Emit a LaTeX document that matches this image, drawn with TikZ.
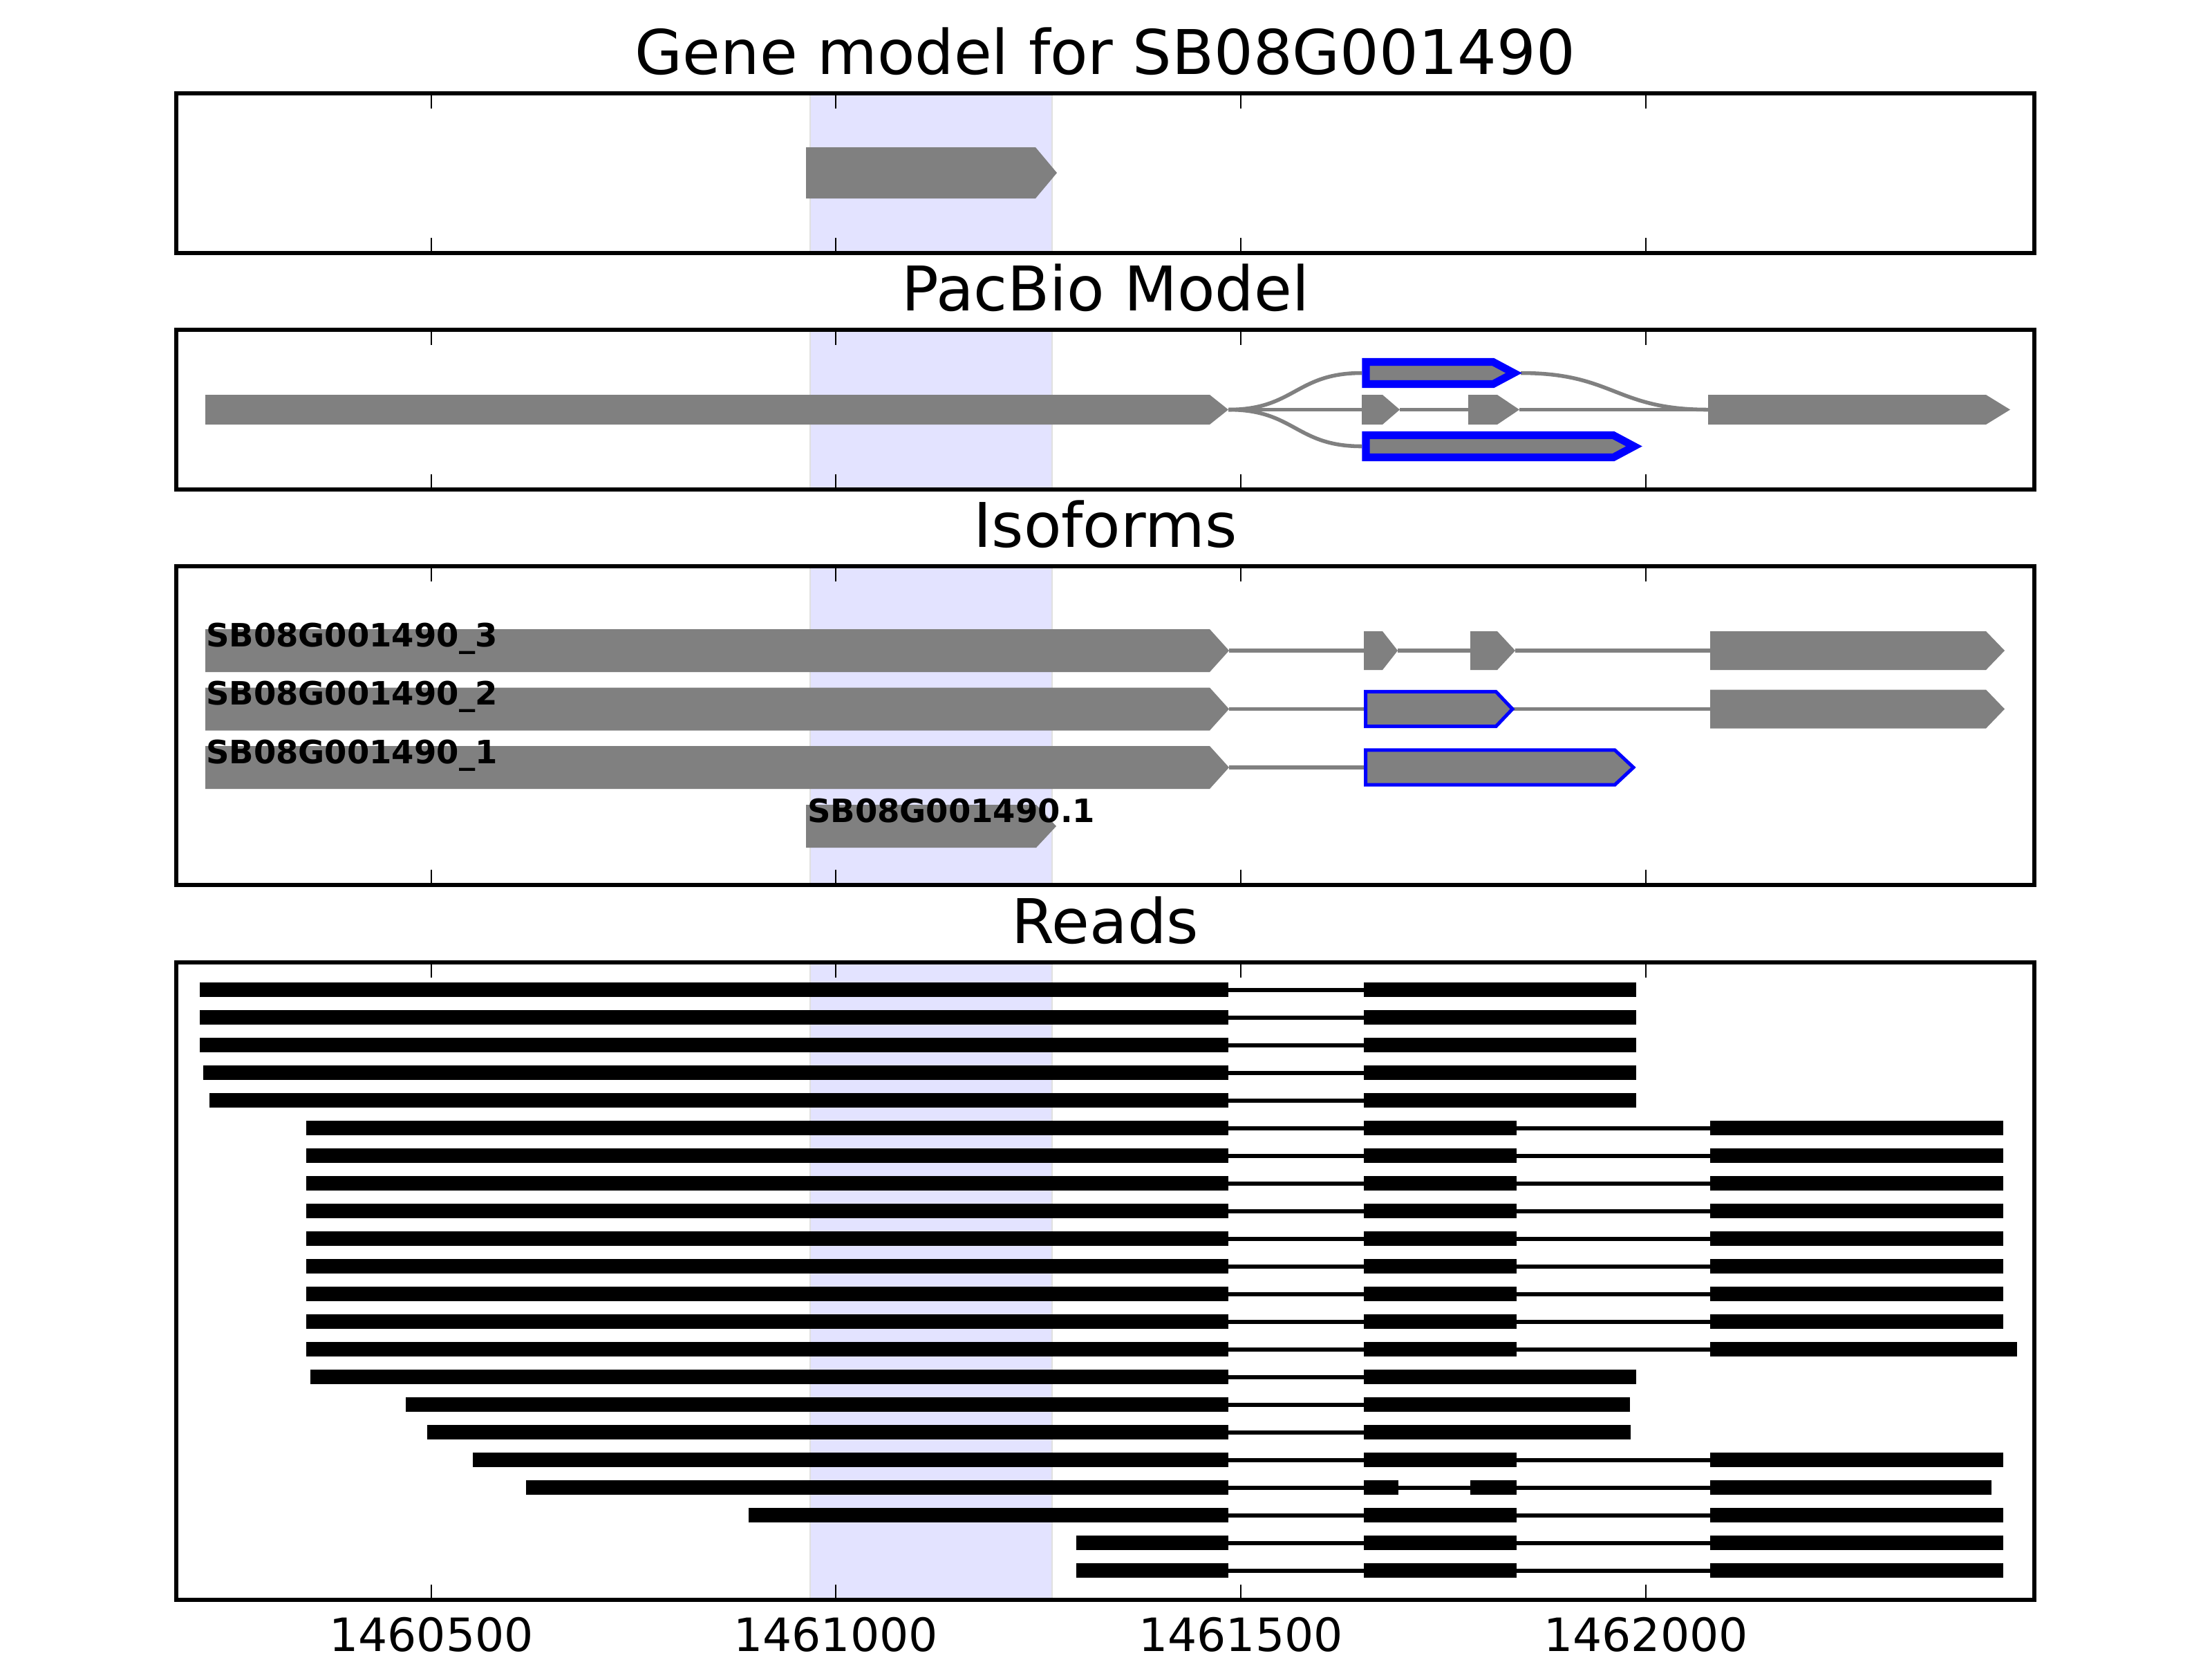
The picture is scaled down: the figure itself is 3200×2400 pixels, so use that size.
\documentclass[tikz,border=0pt]{standalone}
\usepackage{fontspec}
\setmainfont{DejaVu Sans}
\usetikzlibrary{positioning}
\tikzstyle{panel}=[draw=black,line width=1pt]
\tikzstyle{hilite}=[fill=blue!11,draw=black!12,line width=0.4pt]
\tikzstyle{tk}=[line width=0.5pt]
\tikzstyle{exon}=[fill=gray]
\tikzstyle{pick}=[fill=gray,draw=blue,line width=2pt,line join=miter]
\tikzstyle{pickthin}=[fill=gray,draw=blue,line width=0.9pt,line join=miter]
\tikzstyle{intron}=[draw=gray,line width=1pt]
\tikzstyle{readbar}=[fill=black]
\tikzstyle{readline}=[draw=black,line width=1pt]
\tikzstyle{ttl}=[font=\fontsize{16.1}{19}\selectfont,anchor=base,inner sep=0pt]
\tikzstyle{ticklbl}=[font=\fontsize{12}{14}\selectfont,anchor=base,inner sep=0pt]
\tikzstyle{isolbl}=[font=\fontsize{8.4}{10}\selectfont\bfseries,anchor=base west,inner sep=0pt]
% exon with arrow tip: start, body end, tip, centre, half height
\newcommand{\exon}[6][exon]{\path[#1] (#2,#5-#6) -- (#3,#5-#6) -- (#4,#5) -- (#3,#5+#6) -- (#2,#5+#6) -- cycle;}
% axes box with inward ticks
\newcommand{\axbox}[2]{%
  \foreach \t in {624,1209,1795,2381} {\draw[tk] (\t,#1) -- ++(0,22); \draw[tk] (\t,#2) -- ++(0,-22);}
  \draw[panel] (255,#1) rectangle (2943,#2);}
\begin{document}
\begin{tikzpicture}[x=0.0635mm,y=-0.0635mm]
\useasboundingbox (0,0) rectangle (3200,2400);
\fill[white] (0,0) rectangle (3200,2400);

% shaded region of the gene model
\foreach \tp/\bt in {135/366,477/708,819/1280,1392/2314}
  \path[hilite] (1172,\tp) rectangle (1522,\bt);

% gene model
\node[ttl] (t1) at (1599,107) {Gene model for SB08G001490};
\exon{1166}{1498}{1529}{250}{37}
\axbox{135}{366}

% pacbio model
\node[ttl] (t2) at (1599,449) {PacBio Model};
\coordinate (pa) at (1777,592.5);
\coordinate (pu) at (1970,539.5);
\coordinate (pm) at (1970,592.5);
\coordinate (pl) at (1970,645.5);
\coordinate (pv) at (2200,539.5);
\coordinate (pz) at (2471,592.5);
\draw[intron] (pa) .. controls +(96,0) and +(-96,0) .. (pu);
\draw[intron] (pa) .. controls +(96,0) and +(-96,0) .. (pl);
\draw[intron] (pa) -- (pm);
\draw[intron] (2025,592.5) -- (2124,592.5);
\draw[intron] (2198,592.5) -- (pz);
\draw[intron] (pv) .. controls +(135,0) and +(-135,0) .. (pz);
\exon{297}{1750}{1777}{592.5}{21.5}
\exon{1970}{2000}{2025}{592.5}{21.5}
\exon{2124}{2166}{2198}{592.5}{21.5}
\exon{2471}{2873}{2908}{592.5}{21.5}
\exon[pick]{1976}{2160}{2190}{539.5}{16}
\exon[pick]{1976}{2334}{2364}{645.5}{16}
\axbox{477}{708}

% isoforms
\node[ttl] (t3) at (1599,791) {Isoforms};
\draw[intron] (1778,941) -- (1973,941);
\draw[intron] (2022,941) -- (2127,941);
\draw[intron] (2192,941) -- (2474,941);
\draw[intron] (1778,1025.5) -- (1975,1025.5);
\draw[intron] (2189,1025.5) -- (2474,1025.5);
\draw[intron] (1778,1110) -- (1975,1110);
\exon{297}{1750}{1778}{941}{31}
\exon{1973}{2000}{2022}{941}{28}
\exon{2127}{2166}{2192}{941}{28}
\exon{2474}{2873}{2900}{941}{28}
\exon{297}{1750}{1778}{1025.5}{31}
\exon[pickthin]{1975.5}{2164}{2188}{1025.5}{25.2}
\exon{2474}{2873}{2900}{1025.5}{28}
\exon{297}{1750}{1778}{1110}{31}
\exon[pickthin]{1975.5}{2336}{2363}{1110}{25.2}
\exon{1166}{1499}{1528}{1195}{31}
\node[isolbl] (i3) at (297,935) {SB08G001490\_3};
\node[isolbl] (i2) at (297,1019.5) {SB08G001490\_2};
\node[isolbl] (i1) at (297,1104) {SB08G001490\_1};
\node[isolbl] (g1) at (1167,1189) {SB08G001490.1};
\axbox{819}{1280}

% reads
\node[ttl] (t4) at (1599,1364) {Reads};
\foreach \n/\st/\en/\bl in {
  0/289/2367/{289/1777,1973/2367},
  1/289/2367/{289/1777,1973/2367},
  2/289/2367/{289/1777,1973/2367},
  3/294/2367/{294/1777,1973/2367},
  4/303/2367/{303/1777,1973/2367},
  5/443/2898/{443/1777,1973/2194,2474/2898},
  6/443/2898/{443/1777,1973/2194,2474/2898},
  7/443/2898/{443/1777,1973/2194,2474/2898},
  8/443/2898/{443/1777,1973/2194,2474/2898},
  9/443/2898/{443/1777,1973/2194,2474/2898},
  10/443/2898/{443/1777,1973/2194,2474/2898},
  11/443/2898/{443/1777,1973/2194,2474/2898},
  12/443/2898/{443/1777,1973/2194,2474/2898},
  13/443/2918/{443/1777,1973/2194,2474/2918},
  14/449/2367/{449/1777,1973/2367},
  15/587/2358/{587/1777,1973/2358},
  16/618/2359/{618/1777,1973/2359},
  17/684/2898/{684/1777,1973/2194,2474/2898},
  18/761/2881/{761/1777,1973/2023,2127/2194,2474/2881},
  19/1083/2898/{1083/1777,1973/2194,2474/2898},
  20/1557/2898/{1557/1777,1973/2194,2474/2898},
  21/1557/2898/{1557/1777,1973/2194,2474/2898}} {
  \pgfmathsetmacro\yc{1431.7+40*\n}
  \draw[readline] (\st,\yc) -- (\en,\yc);
  \foreach \a/\b in \bl {\fill[readbar] (\a,\yc-10.5) rectangle (\b,\yc+10.5);}
}
\axbox{1392}{2314}

% x axis labels
\node[ticklbl] (x1) at (624,2388) {1460500};
\node[ticklbl] (x2) at (1209,2388) {1461000};
\node[ticklbl] (x3) at (1795,2388) {1461500};
\node[ticklbl] (x4) at (2381,2388) {1462000};
\end{tikzpicture}
\end{document}
